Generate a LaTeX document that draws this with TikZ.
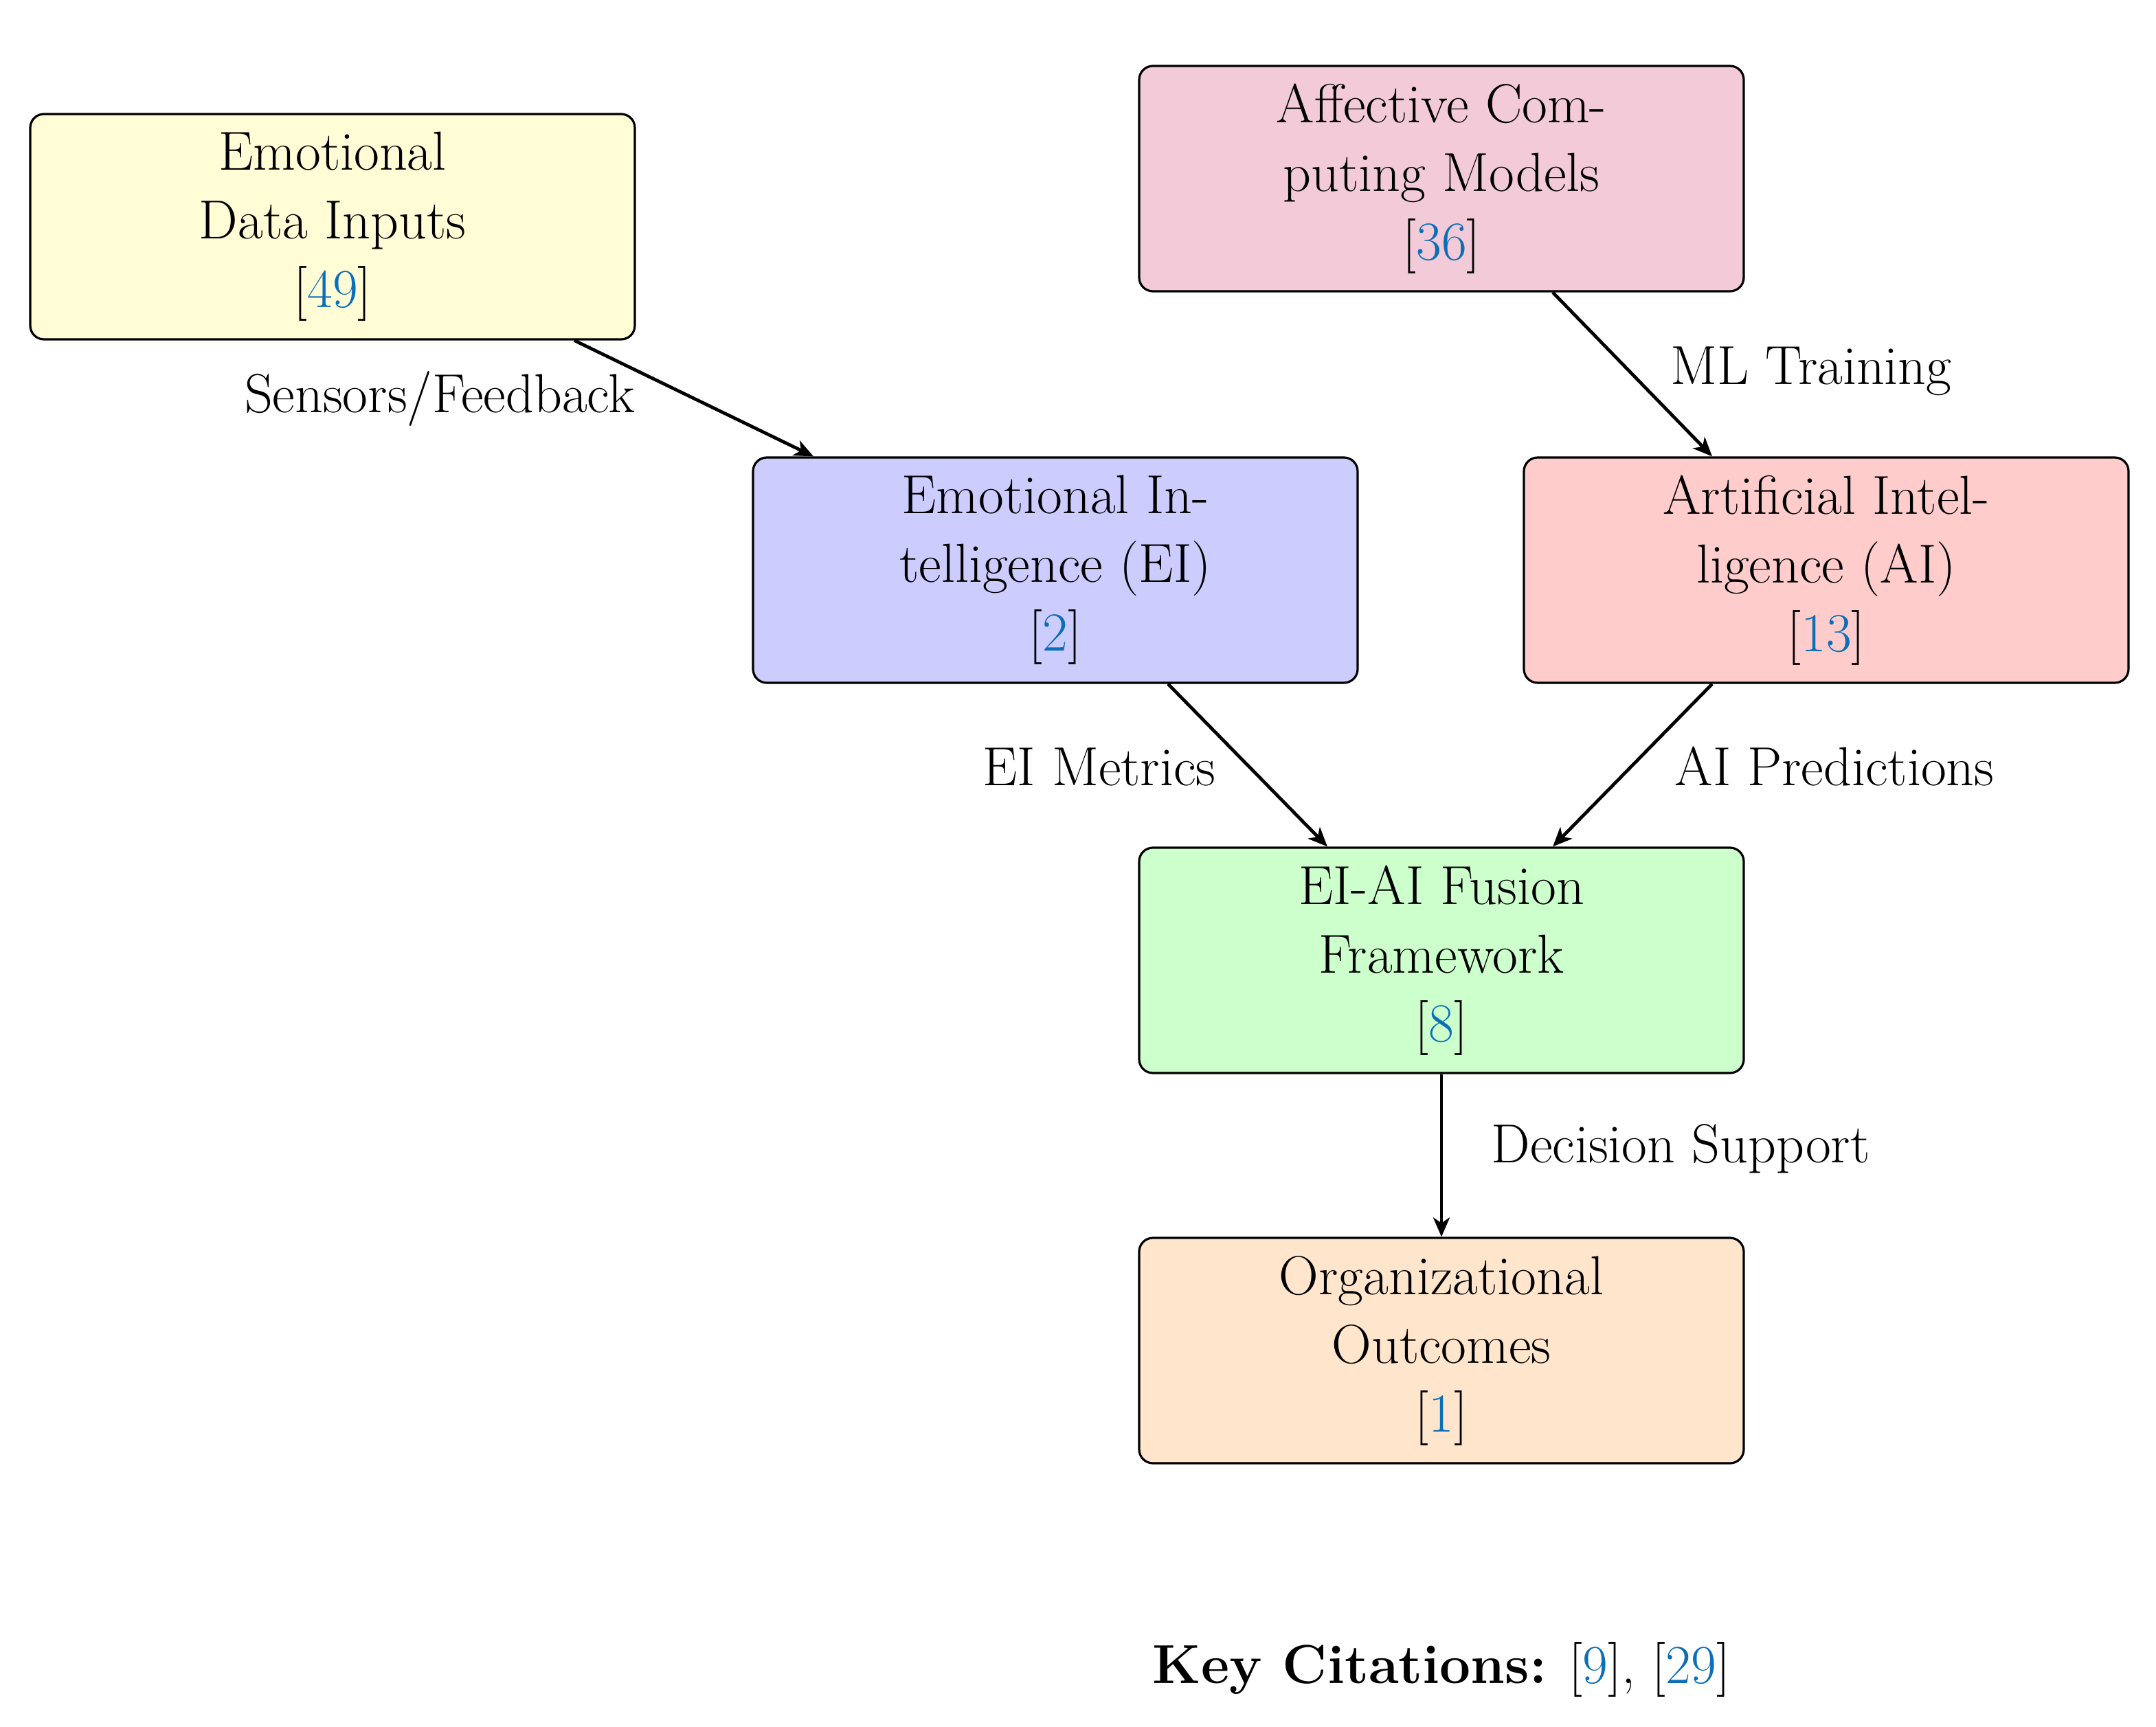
\documentclass[tikz,border=0pt]{standalone}
\usetikzlibrary{calc,arrows.meta}
\definecolor{cite}{HTML}{0B6FB8}
\definecolor{cy}{HTML}{FFFCD6}
\definecolor{cp}{HTML}{F2CAD8}
\definecolor{cb}{HTML}{CCCCFF}
\definecolor{cr}{HTML}{FFCCCC}
\definecolor{cg}{HTML}{CCFFCC}
\definecolor{co}{HTML}{FFE5CC}
\newcommand{\ct}[1]{[\textcolor{cite}{#1}]}
\begin{document}
\begin{tikzpicture}[x=0.5pt,y=-0.5pt,
  box/.style={draw,line width=0.8pt,rounded corners=5pt,minimum width=220pt,minimum height=82pt,align=center,inner sep=0pt,font=\fontsize{20}{25}\selectfont},
  arr/.style={-{Stealth[length=7pt,width=6pt,inset=2pt]},line width=1.2pt},
  lab/.style={font=\fontsize{20}{24}\selectfont}]
\useasboundingbox (0,0) rectangle (1569,1257);
\node[box,fill=cy] (A) at (242,165) {Emotional\\Data Inputs\\\ct{49}};
\node[box,fill=cp] (B) at (1049,130) {Affective Com-\\puting Models\\\ct{36}};
\node[box,fill=cb] (C) at (768,415) {Emotional In-\\telligence (EI)\\\ct{2}};
\node[box,fill=cr] (D) at (1329,415) {Artificial Intel-\\ligence (AI)\\\ct{13}};
\node[box,fill=cg] (E) at (1049,699) {EI-AI Fusion\\Framework\\\ct{8}};
\node[box,fill=co] (F) at (1049,983) {Organizational\\Outcomes\\\ct{1}};
\node[lab] (K) at (1049,1215) {\textbf{Key Citations:} \ct{9}, \ct{29}};
\draw[arr] ($(A.south)+(176,0)$) -- ($(C.north)+(-176,0)$);
\node[lab] (l1) at (320,290) {Sensors/Feedback};
\draw[arr] ($(B.south)+(81,0)$) -- ($(D.north)+(-83,0)$);
\node[lab] (l2) at (1318,270) {ML Training};
\draw[arr] ($(C.south)+(82,0)$) -- ($(E.north)+(-83,0)$);
\node[lab] (l3) at (800,558) {EI Metrics};
\draw[arr] ($(D.south)+(-83,0)$) -- ($(E.north)+(81,0)$);
\node[lab] (l4) at (1335,558) {AI Predictions};
\draw[arr] (E.south) -- (F.north);
\node[lab] (l5) at (1223,836) {Decision Support};
\end{tikzpicture}
\end{document}
